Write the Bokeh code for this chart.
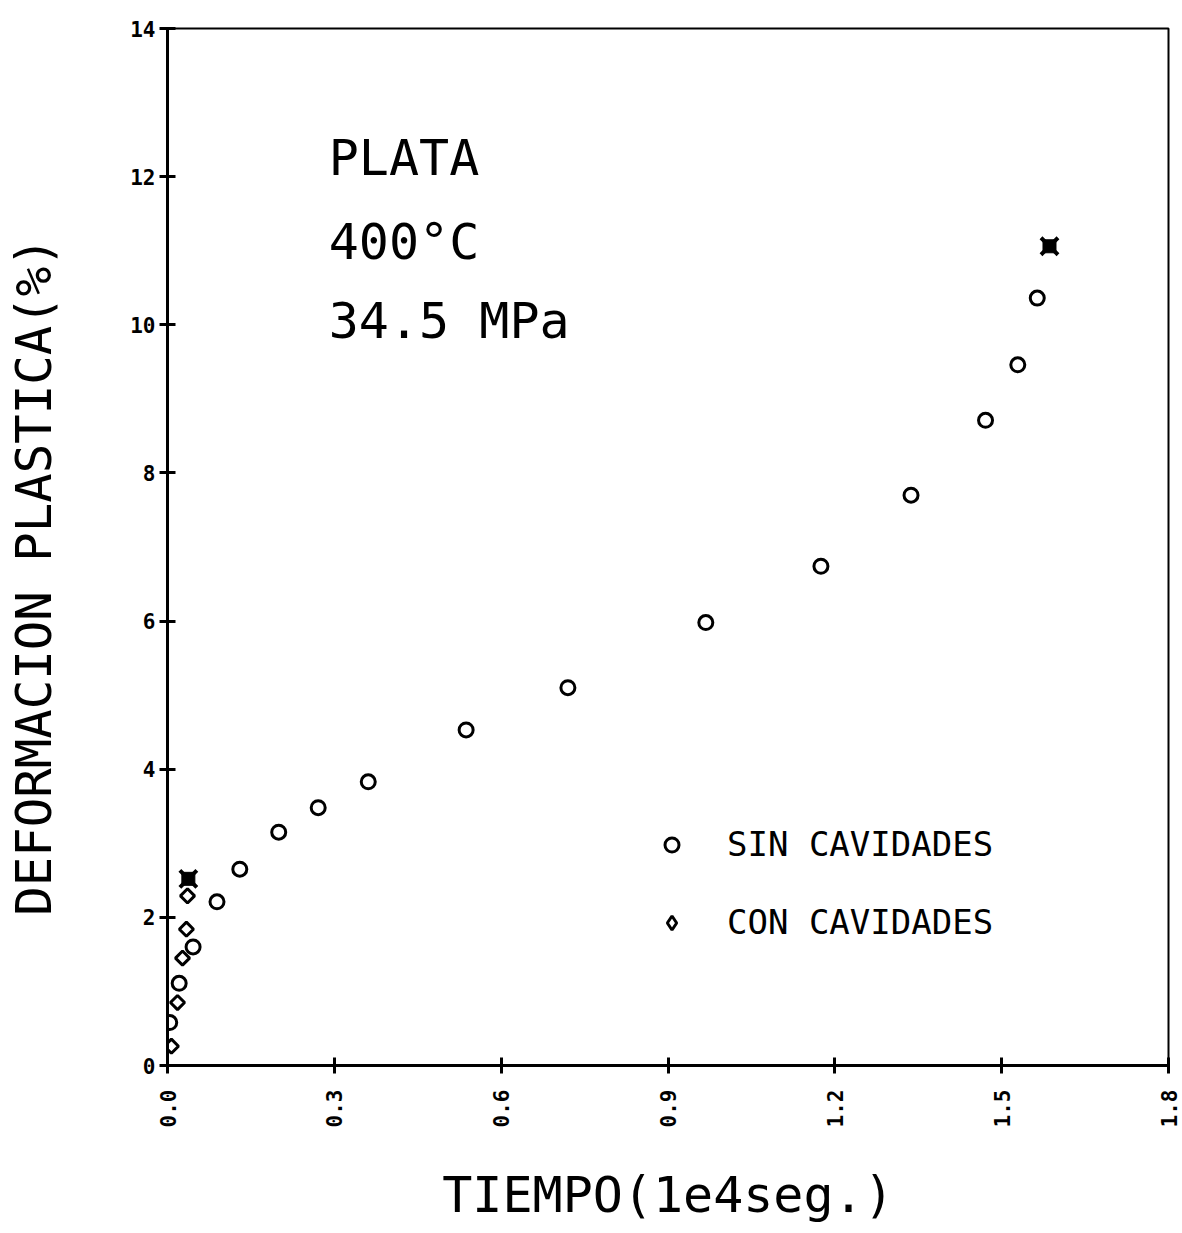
import math
from bokeh.plotting import figure
from bokeh.models import FixedTicker, PrintfTickFormatter, Legend, LegendItem, Label
from bokeh.embed import file_html
from bokeh.resources import INLINE

# Data (tiempo in 1e4 s, deformacion in %)
sin_x = [0.004, 0.021, 0.046, 0.089, 0.130, 0.200, 0.271, 0.361, 0.537, 0.720,
         0.968, 1.175, 1.337, 1.471, 1.529, 1.564]
sin_y = [0.58, 1.11, 1.60, 2.21, 2.65, 3.15, 3.48, 3.83, 4.53, 5.10,
         5.98, 6.74, 7.70, 8.71, 9.46, 10.36]
con_x = [0.007, 0.018, 0.027, 0.034, 0.036]
con_y = [0.26, 0.85, 1.45, 1.84, 2.29]
rup_x = [1.586, 0.0375]
rup_y = [11.06, 2.52]

x_ticks = [0.0, 0.3, 0.6, 0.9, 1.2, 1.5, 1.8]
y_ticks = [0, 2, 4, 6, 8, 10, 12, 14]
legend_labels = ["SIN CAVIDADES", "CON CAVIDADES"]
note_lines = ["PLATA", "400°C", "34.5 MPa"]
note_y = [12.25, 11.12, 10.05]
note_x = 0.29
y_title = "DEFORMACION PLASTICA(%)"
x_title = "TIEMPO(1e4seg.)"

FONT = "DejaVu Sans Mono"
NBSP = "\u00a0"

p = figure(width=1182, height=1233, x_range=(0, 1.8), y_range=(0, 14),
           output_backend="svg", toolbar_location=None,
           min_border_left=167, min_border_right=14, min_border_top=28,
           min_border_bottom=168)
p.xgrid.visible = False
p.ygrid.visible = False
p.background_fill_color = "white"
p.border_fill_color = "white"
p.outline_line_color = "black"
p.outline_line_width = 2

for ax in (p.xaxis[0], p.yaxis[0]):
    ax.axis_line_width = 3
    ax.major_tick_line_width = 3
    ax.major_tick_in = 8
    ax.major_tick_out = 8
    ax.minor_tick_line_color = None
    ax.major_label_text_font = FONT
    ax.major_label_text_font_style = "bold"
    ax.major_label_text_font_size = "21px"
    ax.major_label_text_color = "black"
    ax.axis_label_text_font = FONT
    ax.axis_label_text_font_style = "normal"
    ax.axis_label_text_font_size = "50px"
    ax.axis_label_text_color = "black"

p.xaxis.ticker = FixedTicker(ticks=x_ticks)
p.xaxis.formatter = PrintfTickFormatter(format="%.1f")
p.xaxis.major_label_orientation = math.pi / 2
p.xaxis.major_label_standoff = 16
p.xaxis.axis_label = x_title
p.xaxis.axis_label_standoff = 36

p.yaxis.ticker = FixedTicker(ticks=y_ticks)
p.yaxis.formatter = PrintfTickFormatter(format="%d")
p.yaxis.major_label_standoff = 4
# two trailing no-break spaces push the visible title down, as in the reference
p.yaxis.axis_label = y_title + NBSP * 2
p.yaxis.axis_label_text_font_size = "49px"
p.yaxis.axis_label_standoff = 64

r_sin = p.scatter(sin_x, sin_y, marker="circle", size=14, fill_color=None,
                  line_color="black", line_width=3)
p.scatter(con_x, con_y, marker="square", angle=math.pi / 4, size=10,
          fill_color=None, line_color="black", line_width=3)
# legend-only diamond (the legend cannot rotate the square above); NaN = not drawn
r_con_leg = p.scatter([float("nan")], [float("nan")], marker="diamond",
                      fill_color=None, line_color="black", line_width=3)
p.scatter(rup_x, rup_y, marker="square", size=13, fill_color="black",
          line_color="black")
p.scatter(rup_x, rup_y, marker="x", size=24, line_color="black", line_width=4)

for txt, yy in zip(note_lines, note_y):
    p.add_layout(Label(x=note_x, y=yy, text=txt, text_font=FONT,
                       text_font_size="50px", text_baseline="middle",
                       text_color="black"))

legend = Legend(items=[LegendItem(label=legend_labels[0], renderers=[r_sin]),
                       LegendItem(label=legend_labels[1], renderers=[r_con_leg])],
                location=(487, 123), glyph_width=35, glyph_height=35,
                label_height=35, spacing=38, label_standoff=38, padding=0,
                margin=0, border_line_color=None, background_fill_alpha=0,
                label_text_font=FONT, label_text_font_size="34px",
                label_text_color="black")
p.add_layout(legend)

open("out.html", "w").write(file_html(p, INLINE))
